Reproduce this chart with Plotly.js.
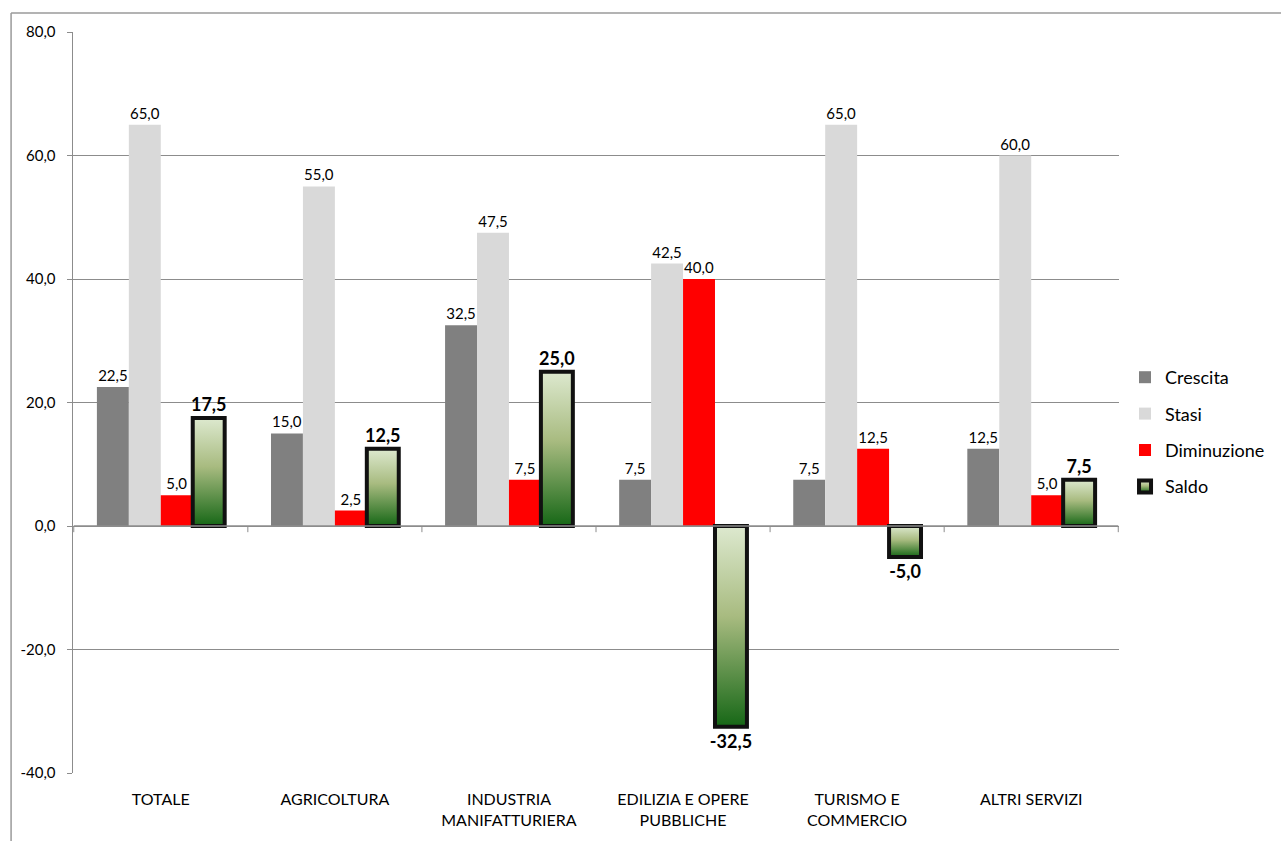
<!DOCTYPE html>
<html>
<head>
<meta charset="utf-8">
<script src="https://cdn.plot.ly/plotly-3.0.1.min.js"></script>
<style>
  html, body { margin: 0; padding: 0; background: #ffffff; }
  #chart { width: 1281px; height: 841px; }
</style>
</head>
<body>
<div id="chart"></div>
<script>
// Settori e serie
const categories = ["TOTALE", "AGRICOLTURA", "INDUSTRIA<br>MANIFATTURIERA", "EDILIZIA E OPERE<br>PUBBLICHE", "TURISMO E<br>COMMERCIO", "ALTRI SERVIZI"];
const crescita = [22.5, 15.0, 32.5, 7.5, 7.5, 12.5];
const stasi = [65.0, 55.0, 47.5, 42.5, 65.0, 60.0];
const diminuzione = [5.0, 2.5, 7.5, 40.0, 12.5, 5.0];
const saldo = [17.5, 12.5, 25.0, -32.5, -5.0, 7.5];
const yTicks = [-40, -20, 0, 20, 40, 60, 80];

const fmt = v => v.toFixed(1).replace('.', ',');
const FONT = 'Lato, "Liberation Sans", sans-serif';
const GRID = '#8c8c8c';

function barTrace(name, values, color, extra) {
  return Object.assign({
    type: 'bar',
    name: name,
    legendgroup: name,
    x: categories,
    y: values,
    text: values.map(fmt),
    textposition: 'outside',
    constraintext: 'none',
    cliponaxis: false,
    textfont: { family: FONT, size: 15, color: '#000000' },
    marker: { color: color },
    hoverinfo: 'skip'
  }, extra || {});
}

const traces = [
  barTrace('Crescita', crescita, '#808080'),
  barTrace('Stasi', stasi, '#d9d9d9'),
  barTrace('Diminuzione', diminuzione, '#ff0000'),
  barTrace('Saldo', saldo, '#8fae6a', {
    marker: { color: '#8fae6a', line: { color: '#111111', width: 4 } },
    textfont: { family: FONT, size: 18, color: '#000000', weight: 'bold' }
  })
];

// Segni di divisione tra le categorie sull'asse dello zero
const dividers = [];
for (let i = 0; i <= categories.length; i++) {
  dividers.push({
    type: 'line', xref: 'x', yref: 'y',
    x0: i - 0.5, x1: i - 0.5, y0: 0, y1: -1,
    line: { color: GRID, width: 1 }
  });
}
dividers.push({
  type: 'line', xref: 'x', yref: 'y',
  x0: -0.5, x1: categories.length - 0.5, y0: 0, y1: 0,
  line: { color: GRID, width: 1.5 }, layer: 'above'
});
// Cornice esterna
const frame = [
  { type: 'line', xref: 'paper', yref: 'paper', x0: -0.0592, x1: 1.16, y0: 1.0256, y1: 1.0256, line: { color: '#9a9a9a', width: 1.5 } },
  { type: 'line', xref: 'paper', yref: 'paper', x0: -0.0592, x1: -0.0592, y0: 1.0256, y1: -0.1, line: { color: '#9a9a9a', width: 1.5 } }
];

const layout = {
  width: 1281,
  height: 841,
  margin: { l: 73, r: 161, t: 32, b: 68 },
  paper_bgcolor: '#ffffff',
  plot_bgcolor: '#ffffff',
  font: { family: FONT, size: 15, color: '#000000' },
  separators: ',.',
  barmode: 'group',
  bargap: 0.266,
  bargroupgap: 0,
  hovermode: false,
  showlegend: true,
  legend: {
    x: 1.0048, xanchor: 'left',
    y: 0.5587, yanchor: 'top',
    font: { family: FONT, size: 18, color: '#000000' },
    tracegroupgap: 10,
    bgcolor: 'rgba(0,0,0,0)'
  },
  xaxis: {
    type: 'category',
    showgrid: false,
    zeroline: false,
    showline: false,
    ticks: 'outside',
    ticklen: 12,
    tickcolor: 'rgba(0,0,0,0)',
    tickfont: { family: FONT, size: 16, color: '#000000' },
    fixedrange: true
  },
  yaxis: {
    range: [-40, 80],
    tickvals: yTicks,
    ticktext: yTicks.map(fmt),
    showgrid: true,
    gridcolor: GRID,
    gridwidth: 1,
    zeroline: false,
    showline: true,
    linecolor: GRID,
    linewidth: 1.5,
    ticks: 'outside',
    ticklen: 5,
    tickcolor: GRID,
    ticklabelstandoff: 8,
    tickfont: { family: FONT, size: 15, color: '#000000' },
    fixedrange: true
  },
  shapes: dividers.concat(frame)
};

Plotly.newPlot('chart', traces, layout, { displayModeBar: false, staticPlot: true }).then(gd => {
  // Riempimento sfumato per le barre del saldo
  const ns = 'http://www.w3.org/2000/svg';
  const svg = gd.querySelector('.main-svg');
  let defs = svg.querySelector('defs');
  if (!defs) { defs = document.createElementNS(ns, 'defs'); svg.insertBefore(defs, svg.firstChild); }
  const grad = document.createElementNS(ns, 'linearGradient');
  grad.setAttribute('id', 'saldoFill');
  grad.setAttribute('x1', '0'); grad.setAttribute('y1', '0');
  grad.setAttribute('x2', '0'); grad.setAttribute('y2', '1');
  [['0%', '#dde9cf'], ['45%', '#a8bb80'], ['100%', '#166716']].forEach(([o, c]) => {
    const s = document.createElementNS(ns, 'stop');
    s.setAttribute('offset', o);
    s.setAttribute('stop-color', c);
    grad.appendChild(s);
  });
  defs.appendChild(grad);
  const barTraces = gd.querySelectorAll('.barlayer .trace');
  barTraces[3].querySelectorAll('.point path').forEach(p => { p.style.fill = 'url(#saldoFill)'; });
  const legendItems = gd.querySelectorAll('.legend .traces');
  if (legendItems[3]) legendItems[3].querySelectorAll('.legendpoints path').forEach(p => { p.style.fill = 'url(#saldoFill)'; });
});
</script>
</body>
</html>
